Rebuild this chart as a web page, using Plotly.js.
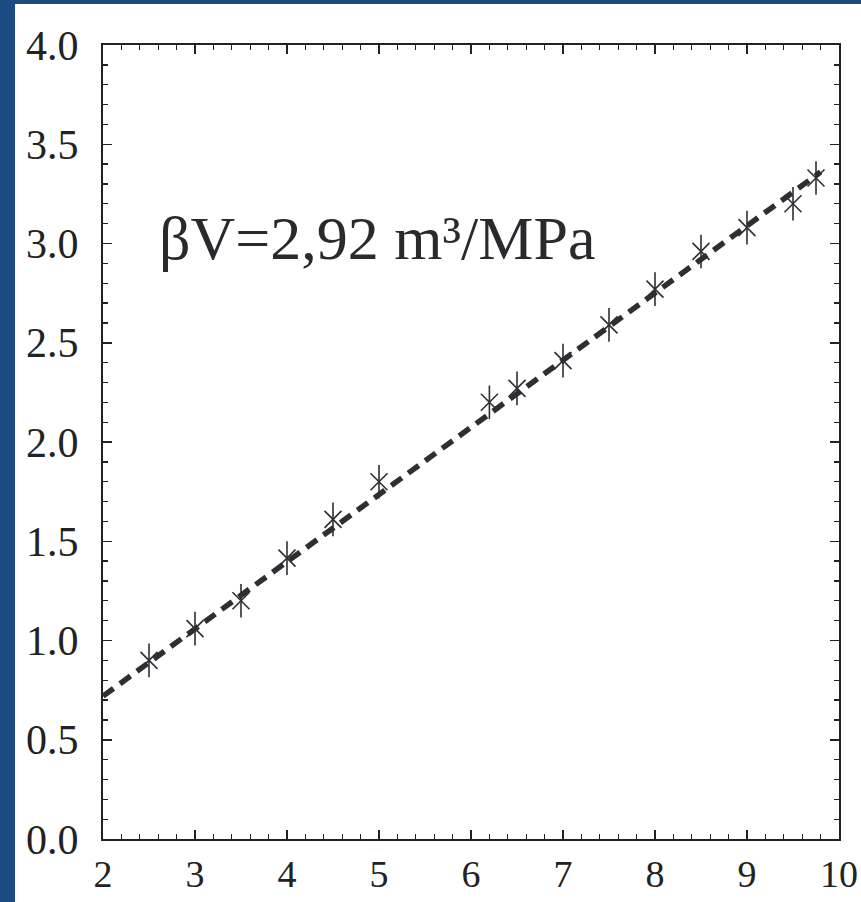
<!DOCTYPE html>
<html>
<head>
<meta charset="utf-8">
<script src="https://cdn.plot.ly/plotly-3.0.1.min.js"></script>
<style>
  html, body { margin:0; padding:0; width:861px; height:902px; background:#1e4a82; overflow:hidden; }
  #plot { position:absolute; left:15px; top:4px; width:846px; height:898px; background:#fff; }
</style>
</head>
<body>
<div id="plot"></div>
<script>
// Measured data points (asterisks)
const xData = [2.5, 3.0, 3.5, 4.0, 4.5, 5.0, 6.2, 6.5, 7.0, 7.5, 8.0, 8.5, 9.0, 9.5, 9.75];
const yData = [0.90, 1.06, 1.20, 1.415, 1.61, 1.80, 2.20, 2.27, 2.41, 2.59, 2.77, 2.96, 3.08, 3.20, 3.33];
// Fitted dashed line endpoints
const fitX = [2.0, 9.8];
const fitY = [0.72, 3.36];
// Tick values / labels
const xTicks = [2, 3, 4, 5, 6, 7, 8, 9, 10];
const yTicks = [0.0, 0.5, 1.0, 1.5, 2.0, 2.5, 3.0, 3.5, 4.0];
const annotationText = "βV=2,92 m³/MPa";

const ink = '#2e2e33';
const fontFam = '"Liberation Serif", "Times New Roman", serif';

const traces = [
  {
    x: fitX, y: fitY, type: 'scatter', mode: 'lines',
    line: { color: ink, width: 5.5, dash: '13px,8px' },
    hoverinfo: 'skip', showlegend: false
  },
  {
    x: xData, y: yData, type: 'scatter', mode: 'markers',
    marker: { symbol: 'line-ns-open', size: 24, color: ink, line: { color: ink, width: 1.6 } },
    showlegend: false
  },
  {
    x: xData, y: yData, type: 'scatter', mode: 'markers',
    marker: { symbol: 'x-thin-open', size: 17, color: ink, line: { color: ink, width: 1.6 } },
    showlegend: false
  }
];

const axisCommon = {
  showgrid: false, zeroline: false,
  showline: true, linecolor: '#222', linewidth: 2,
  mirror: 'ticks', ticks: 'inside', ticklen: 9, tickwidth: 1.5, tickcolor: '#222'
};

const layout = {
  width: 846, height: 898,
  margin: { l: 88, r: 22, t: 41, b: 63 },
  paper_bgcolor: '#ffffff', plot_bgcolor: '#ffffff',
  showlegend: false,
  xaxis: Object.assign({}, axisCommon, {
    range: [2, 10], tickvals: xTicks, ticktext: xTicks.map(String),
    tickfont: { family: fontFam, size: 38, color: '#222' },
    minor: { dtick: 0.2, ticks: 'inside', ticklen: 5, tickwidth: 1.3, tickcolor: '#222' },
    ticklabelstandoff: 0
  }),
  yaxis: Object.assign({}, axisCommon, {
    range: [0, 4], tickvals: yTicks, ticktext: yTicks.map(v => v.toFixed(1)),
    tickfont: { family: fontFam, size: 42, color: '#222' },
    minor: { dtick: 0.1, ticks: 'inside', ticklen: 5, tickwidth: 1.3, tickcolor: '#222' },
    ticklabelstandoff: 14
  }),
  annotations: [{
    x: 2.59, y: 3.03, xref: 'x', yref: 'y', xanchor: 'left', yanchor: 'middle',
    text: annotationText, showarrow: false,
    font: { family: fontFam, size: 62, color: '#2a2a2e' }
  }]
};

Plotly.newPlot('plot', traces, layout, { displayModeBar: false, staticPlot: true });
</script>
</body>
</html>
